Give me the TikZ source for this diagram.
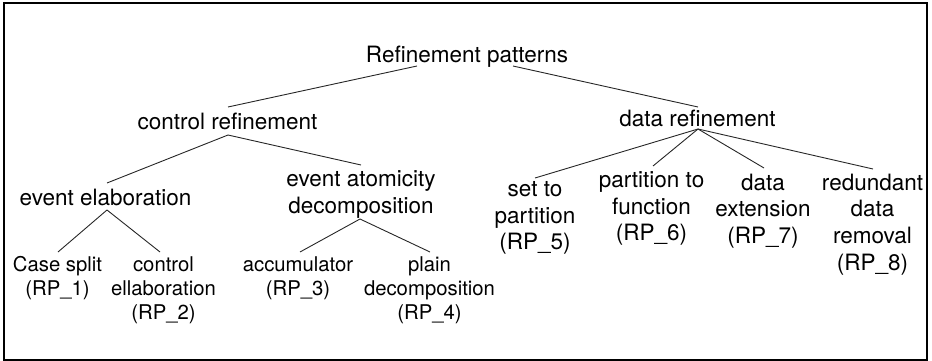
\documentclass[tikz,border=0pt]{standalone}
\usepackage{fontspec}
\setmainfont{TeX Gyre Heros}
\begin{document}
\begin{tikzpicture}[x=1pt,y=-1pt,
  big/.style={anchor=base,inner sep=0pt,align=center,font=\fontsize{22.5}{26.7}\selectfont},
  small/.style={anchor=base,inner sep=0pt,align=center,font=\fontsize{20.3}{24.2}\selectfont},
  edge/.style={line width=0.9pt,black!85}]
\useasboundingbox (0,0) rectangle (932,361);
\draw[line width=2.2pt] (3.7,3) rectangle (927.3,360);
% nodes (anchor = baseline of the last line)
\node[big] (rp) at (467,63) {Refinement patterns};
\node[big] (cr) at (227.5,129) {control refinement};
\node[big] (dr) at (697.5,126.5) {data refinement};
\node[big] (ee) at (105.5,205) {event elaboration};
\node[big] (ea) at (361,213.3) {event atomicity\\decomposition};
\node[small] (l1) at (57.5,295.2) {Case split\\(RP\_1)};
\node[small] (l2) at (163.5,319.4) {control\\ellaboration\\(RP\_2)};
\node[small] (l3) at (298,295.2) {accumulator\\(RP\_3)};
\node[small] (l4) at (429.5,319.4) {plain\\decomposition\\(RP\_4)};
\node[big] (d1) at (535,249.9) {set to\\partition\\(RP\_5)};
\node[big] (d2) at (651.5,240.9) {partition to\\function\\(RP\_6)};
\node[big] (d3) at (763,243.4) {data\\extension\\(RP\_7)};
\node[big] (d4) at (872.5,270.1) {redundant\\data\\removal\\(RP\_8)};
% edges
\draw[edge] ([shift={(-50,3)}]rp.base) -- ([shift={(0.5,-22)}]cr.base);
\draw[edge] ([shift={(46,3)}]rp.base) -- ([shift={(0.5,-19.5)}]dr.base);
\draw[edge] ([shift={(0.5,6)}]cr.base) -- ([shift={(1.5,-22)}]ee.base);
\draw[edge] ([shift={(0.5,6)}]cr.base) -- ([shift={(0,-48.3)}]ea.base);
\draw[edge] ([shift={(1.5,5)}]ee.base) -- ([shift={(0.5,-43.2)}]l1.base);
\draw[edge] ([shift={(1.5,5)}]ee.base) -- ([shift={(-3.5,-67.4)}]l2.base);
\draw[edge] ([shift={(-1,5.7)}]ea.base) -- ([shift={(2,-43.2)}]l3.base);
\draw[edge] ([shift={(-1,5.7)}]ea.base) -- ([shift={(0.5,-67.4)}]l4.base);
\draw[edge] ([shift={(0.5,2.5)}]dr.base) -- ([shift={(0,-71.9)}]d1.base);
\draw[edge] ([shift={(0.5,2.5)}]dr.base) -- ([shift={(1.5,-74.9)}]d2.base);
\draw[edge] ([shift={(0.5,2.5)}]dr.base) -- ([shift={(1,-75.4)}]d3.base);
\draw[edge] ([shift={(0.5,2.5)}]dr.base) -- ([shift={(0.5,-101.1)}]d4.base);
\end{tikzpicture}
\end{document}
